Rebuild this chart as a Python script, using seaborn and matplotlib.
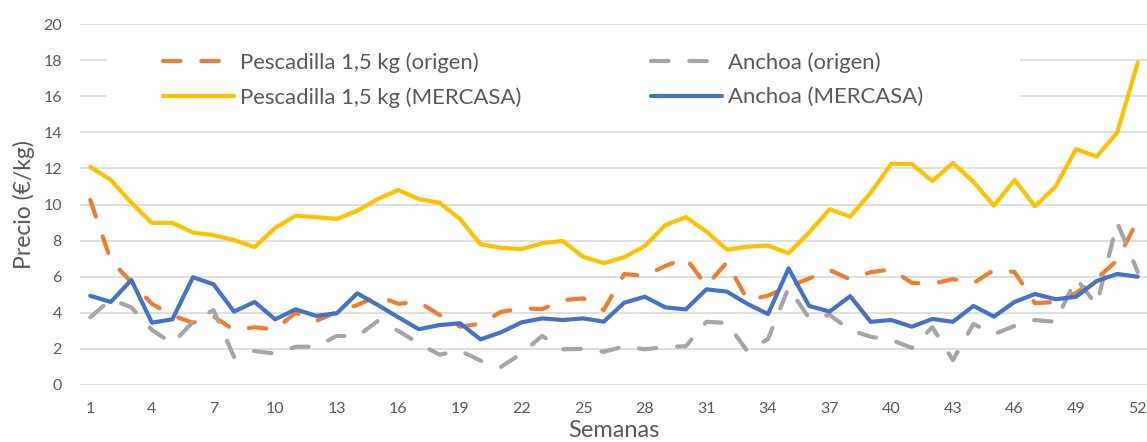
import pandas as pd
import matplotlib.pyplot as plt
import seaborn as sns
from matplotlib.patches import Rectangle

# Datos semanales (precio en €/kg)
semanas = list(range(1, 53))
pescadilla_origen = [10.25, 6.9, 5.7, 4.5, 3.85, 3.45, 3.8, 3.05, 3.2, 3.08,
                     4.0, 3.55, 4.05, 4.43, 4.93, 4.5, 4.6, 3.88, 3.23, 3.4,
                     4.05, 4.25, 4.2, 4.7, 4.8, 4.15, 6.15, 6.04, 6.6, 7.03,
                     5.5, 6.8, 4.7, 4.95, 5.45, 5.9, 6.37, 5.85, 6.25, 6.4,
                     5.66, 5.6, 5.87, 5.64, 6.37, 6.26, 4.53, 4.6, 5.1, 5.9,
                     6.9, 9.14]
anchoa_origen = [3.75, 4.75, 4.3, 3.05, 2.3, 3.5, 4.15, 1.56, 1.88, 1.74,
                 2.12, 2.12, 2.72, 2.7, 3.55, 3.0, 2.3, 1.68, 1.9, 1.35,
                 1.0, 1.75, 2.72, 1.98, 2.0, 1.84, 2.14, 1.98, 2.1, 2.15,
                 3.5, 3.44, 1.86, 2.55, 5.4, 3.7, 3.88, 3.05, 2.67, 2.5,
                 2.05, 3.2, 1.38, 3.38, 2.82, 3.27, 3.6, 3.5, 5.9, 4.43,
                 9.0, 6.26]
pescadilla_mercasa = [12.08, 11.36, 10.1, 8.98, 8.98, 8.45, 8.3, 8.03, 7.64, 8.7,
                      9.38, 9.3, 9.2, 9.65, 10.3, 10.8, 10.3, 10.1, 9.2, 7.8,
                      7.6, 7.53, 7.85, 7.98, 7.1, 6.75, 7.08, 7.7, 8.86, 9.3,
                      8.5, 7.5, 7.66, 7.72, 7.3, 8.45, 9.74, 9.33, 10.65, 12.25,
                      12.25, 11.3, 12.3, 11.26, 9.93, 11.36, 9.9, 11.0, 13.07, 12.65,
                      13.98, 17.86]
anchoa_mercasa = [4.94, 4.6, 5.82, 3.45, 3.64, 5.97, 5.58, 4.07, 4.6, 3.64,
                  4.19, 3.83, 3.97, 5.08, 4.43, 3.75, 3.09, 3.32, 3.42, 2.53,
                  2.92, 3.47, 3.69, 3.6, 3.69, 3.51, 4.56, 4.89, 4.3, 4.19,
                  5.3, 5.17, 4.49, 3.93, 6.46, 4.38, 4.07, 4.92, 3.5, 3.6,
                  3.23, 3.66, 3.5, 4.38, 3.79, 4.6, 5.04, 4.75, 4.89, 5.76,
                  6.15, 6.0]
xticks = list(range(1, 53, 3))
yticks = list(range(0, 21, 2))

df = pd.DataFrame({'Semana': semanas,
                   'Pescadilla 1,5 kg (origen)': pescadilla_origen,
                   'Anchoa (origen)': anchoa_origen,
                   'Pescadilla 1,5 kg (MERCASA)': pescadilla_mercasa,
                   'Anchoa (MERCASA)': anchoa_mercasa})

sns.set_style('white')
plt.rcParams['font.family'] = ['Lato', 'DejaVu Sans']

fig = plt.figure(figsize=(11.47, 4.42), dpi=100)
ax = fig.add_axes([80 / 1147, (442 - 385) / 442, 1068 / 1147, 361 / 442])

dash = (0, (4.2, 5.0))
series = [('Pescadilla 1,5 kg (origen)', '#ED7D31', dash),
          ('Anchoa (origen)', '#A5A5A5', dash),
          ('Pescadilla 1,5 kg (MERCASA)', '#FFC000', '-'),
          ('Anchoa (MERCASA)', '#4472C4', '-')]
for name, col, ls in series:
    sns.lineplot(data=df, x='Semana', y=name, ax=ax, color=col, lw=3.0,
                 linestyle=ls, dash_capstyle='round', solid_capstyle='round',
                 solid_joinstyle='round', label=name, zorder=3)

ax.set_xlim(0.5, 52.5)
ax.set_ylim(0, 20)
ax.set_xticks(xticks)
ax.set_yticks(yticks)
ax.grid(axis='y', color='#D9D9D9', lw=1.2)
ax.grid(axis='x', visible=False)
ax.set_axisbelow(True)
for s in ax.spines.values():
    s.set_visible(False)
ax.tick_params(axis='both', length=0, labelsize=11.5, labelcolor='#595959')
ax.tick_params(axis='y', pad=13)
ax.tick_params(axis='x', pad=12)
ax.set_xlabel('Semanas', fontsize=17, color='#595959', labelpad=3)
ax.set_ylabel('Precio (€/kg)', fontsize=16.5, color='#595959', labelpad=6)

# fondo blanco de la leyenda
ax.add_patch(Rectangle((0.025, 0.76), 0.855, 0.18, transform=ax.transAxes,
                       facecolor='white', edgecolor='none', zorder=1))

h, l = ax.get_legend_handles_labels()
order = [0, 2, 1, 3]
ax.legend([h[i] for i in order], [l[i] for i in order], ncol=2,
          loc='upper left', bbox_to_anchor=(0.0777, 0.921), frameon=False,
          fontsize=15.9, handlelength=3.2, handletextpad=0.3,
          columnspacing=5.85, labelspacing=0.64, borderpad=0, borderaxespad=0,
          labelcolor='#595959')

plt.savefig('out.png', dpi=100)
